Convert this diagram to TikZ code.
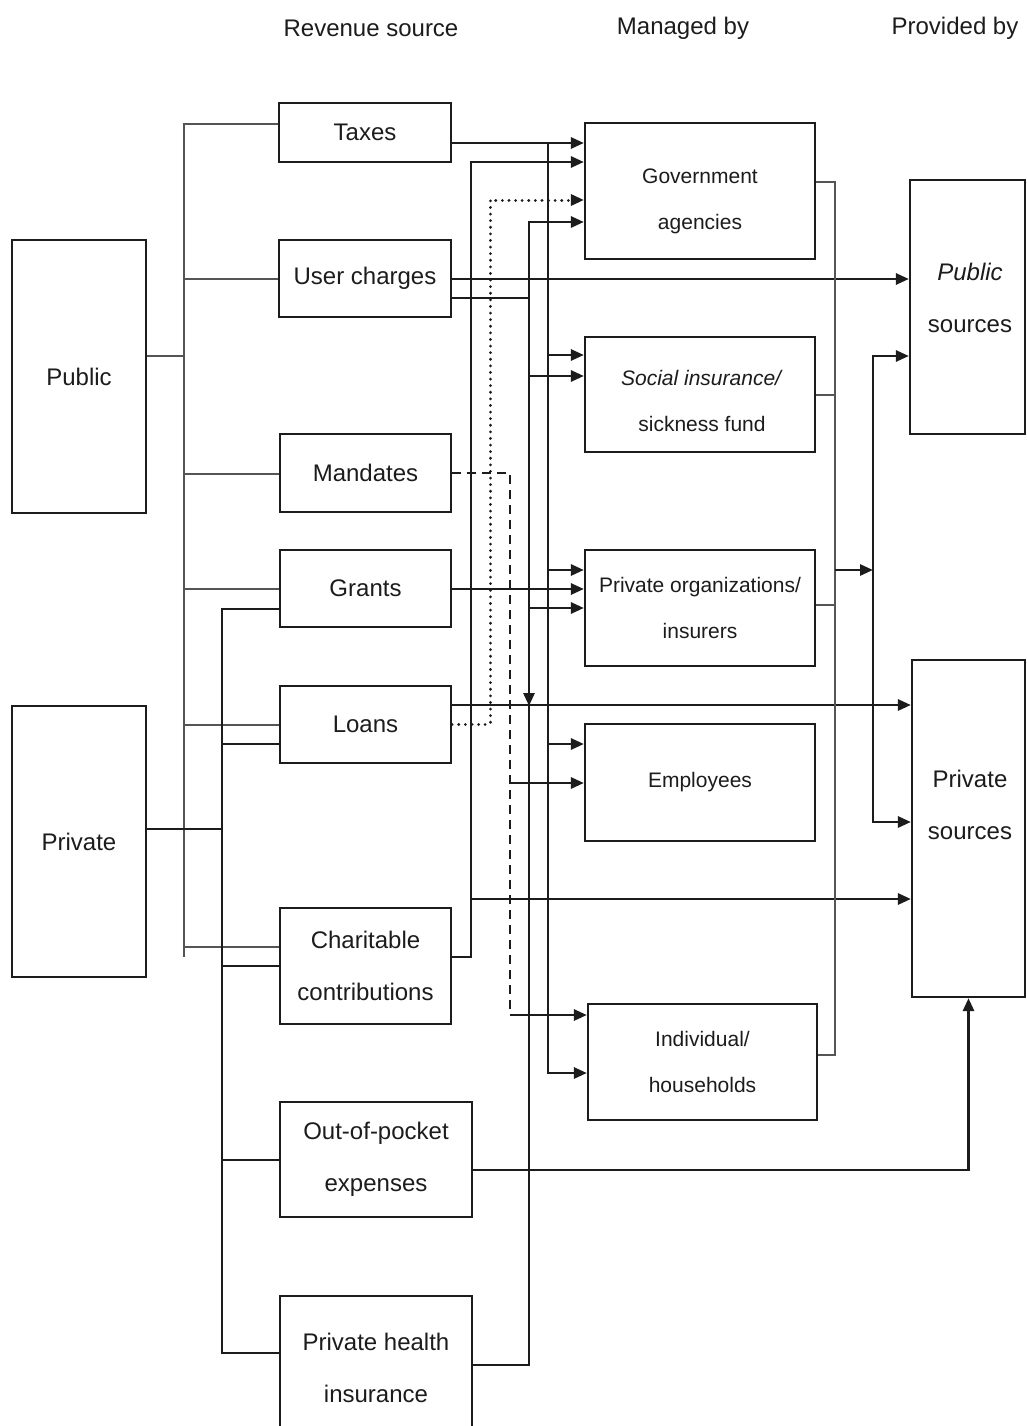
\documentclass[tikz,border=0pt]{standalone}
\usepackage{fontspec}
\setmainfont{Liberation Sans}
\usetikzlibrary{arrows.meta}
\definecolor{ink}{RGB}{28,28,28}
\newcommand\myfL{\fontsize{24}{52}\selectfont}
\newcommand\myfM{\fontsize{21}{46}\selectfont}
\begin{document}
\begin{tikzpicture}[x=1pt,y=-1pt,
  box/.style={draw=ink,line width=2.2pt,inner sep=0pt,align=center,text=ink},
  lbox/.style={box,font=\myfL},
  mbox/.style={box,font=\myfM},
  lbl/.style={align=center,text=ink,inner sep=0pt},
  hdr/.style={font=\fontsize{24}{28}\selectfont,text=ink,inner sep=0pt},
  thk/.style={draw=ink,line width=2.8pt},
  thn/.style={draw=ink!75,line width=1.2pt},
  arr/.style={-{Triangle[length=13pt,width=11pt]}},
  dotln/.style={draw=ink,line width=3pt,line cap=round,dash pattern=on 0.1pt off 6.5pt},
  dashln/.style={draw=ink,line width=2.4pt,dash pattern=on 9pt off 6pt}]
\fill[white] (0,0) rectangle (1027,1426);
\path[use as bounding box] (0,0) rectangle (1027,1426);
\clip (0,0) rectangle (1027,1426);

% headers
\node[hdr] (h1) at (371,28) {Revenue source};
\node[hdr] (h2) at (683,28) {Managed by};
\node[hdr] (h3) at (955,28) {Provided by};

% left column
\node[lbox,minimum width=134pt,minimum height=273pt] (pub) at (79,376.5) {Public};
\node[lbox,minimum width=134pt,minimum height=271pt] (priv) at (79,841.5) {Private};

% revenue sources
\node[lbox,minimum width=172pt,minimum height=59pt] (tax) at (365,132.5) {Taxes};
\node[lbox,minimum width=172pt,minimum height=77pt] (user) at (365,278.5) {User charges};
\node[lbox,minimum width=171pt,minimum height=78pt] (mand) at (365.5,473) {Mandates};
\node[lbox,minimum width=171pt,minimum height=77pt] (grant) at (365.5,588.5) {Grants};
\node[lbox,minimum width=171pt,minimum height=77pt] (loan) at (365.5,724.5) {Loans};
\node[lbox,minimum width=171pt,minimum height=116pt] (char) at (365.5,966) {Charitable\\contributions};
\node[lbox,minimum width=192pt,minimum height=115pt] (oop) at (376,1159.5) {Out-of-pocket\\expenses};
\node[lbox,minimum width=192pt,minimum height=144pt] (phi) at (376,1368) {Private health\\insurance};

% managed by
\node[mbox,minimum width=230pt,minimum height=136pt] (gov) at (700,191) {};
\node[lbl,font=\myfM] (govT) at (700,201) {Government\\agencies};
\node[mbox,minimum width=230pt,minimum height=115pt] (soc) at (700,394.5) {};
\node[lbl,font=\myfM] (socT) at (702,401) {\textit{Social insurance/}\\sickness fund};
\node[mbox,minimum width=230pt,minimum height=116pt] (porg) at (700,608) {Private organizations/\\insurers};
\node[mbox,minimum width=230pt,minimum height=117pt] (emp) at (700,782.5) {Employees};
\node[mbox,minimum width=229pt,minimum height=116pt] (ind) at (702.5,1062) {Individual/\\households};

% provided by
\node[lbox,minimum width=115pt,minimum height=254pt] (pubs) at (967.5,307) {};
\node[lbl,font=\myfL] (pubsT) at (970,297.5) {\textit{Public}\\sources};
\node[lbox,minimum width=113pt,minimum height=337pt] (privs) at (968.5,828.5) {};
\node[lbl,font=\myfL] (privsT) at (970,805) {Private\\sources};

% public bus (thin)
\draw[thn] (pub.east|-0,356) -- (184,356);
\draw[thn] (tax.west|-0,124) -| (184,957);
\draw[thn] (user.west|-0,279) -- (184,279);
\draw[thn] (mand.west|-0,474) -- (184,474);
\draw[thn] (grant.west|-0,589) -- (184,589);
\draw[thn] (loan.west|-0,725) -- (184,725);
\draw[thn] (char.west|-0,947) -- (184,947);

% private bus (thick)
\draw[thk] (priv.east|-0,829) -- (222,829);
\draw[thk] (grant.west|-0,609) -| (222,1353) -- (phi.west|-0,1353);
\draw[thk] (loan.west|-0,744) -- (222,744);
\draw[thk] (char.west|-0,966) -- (222,966);
\draw[thk] (oop.west|-0,1160) -- (222,1160);

% taxes
\draw[thk,arr] (tax.east|-0,143) -- (gov.west|-0,143);
\draw[thk,arr] (548,143) |- (ind.west|-0,1073);
\draw[thk,arr] (548,355) -- (soc.west|-0,355);
\draw[thk,arr] (548,570) -- (porg.west|-0,570);
\draw[thk,arr] (548,744) -- (emp.west|-0,744);

% charitable contributions
\draw[thk,arr] (char.east|-0,957) -| (471,162) -- (gov.west|-0,162);
\draw[thk,arr] (471,899) -- (privs.west|-0,899);

% loans (dotted) to government
\draw[dotln,arr] (loan.east|-0,724) -| (490,200) -- (gov.west|-0,200);

% mandates (dashed)
\draw[dashln] (mand.east|-0,473) -| (510,1015);
\draw[thk,arr] (510,1015) -- (ind.west|-0,1015);
\draw[thk,arr] (510,783) -- (emp.west|-0,783);

% private health insurance
\draw[thk,arr] (phi.east|-0,1365) -| (529,222) -- (gov.west|-0,222);
\draw[thk,arr] (529,376) -- (soc.west|-0,376);
\draw[thk,arr] (529,608) -- (porg.west|-0,608);

% user charges
\draw[thk,arr] (user.east|-0,279) -- (pubs.west|-0,279);
\draw[thk,arr] (user.east|-0,298) -| (529,706);

% grants, loans, out-of-pocket
\draw[thk,arr] (grant.east|-0,589) -- (porg.west|-0,589);
\draw[thk,arr] (loan.east|-0,705) -- (privs.west|-0,705);
\draw[thk,arr] (oop.east|-0,1170) -| (privs.south);

% right collector (thin)
\draw[thn] (gov.east|-0,182) -| (835,1055) -- (ind.east|-0,1055);
\draw[thn] (soc.east|-0,395) -- (835,395);
\draw[thn] (porg.east|-0,605) -- (835,605);
\draw[thk,arr] (835,570) -- (873,570);
\draw[thk,{Triangle[length=13pt,width=11pt]}-{Triangle[length=13pt,width=11pt]}] (pubs.west|-0,356) -| (873,822) -- (privs.west|-0,822);
\end{tikzpicture}
\end{document}
